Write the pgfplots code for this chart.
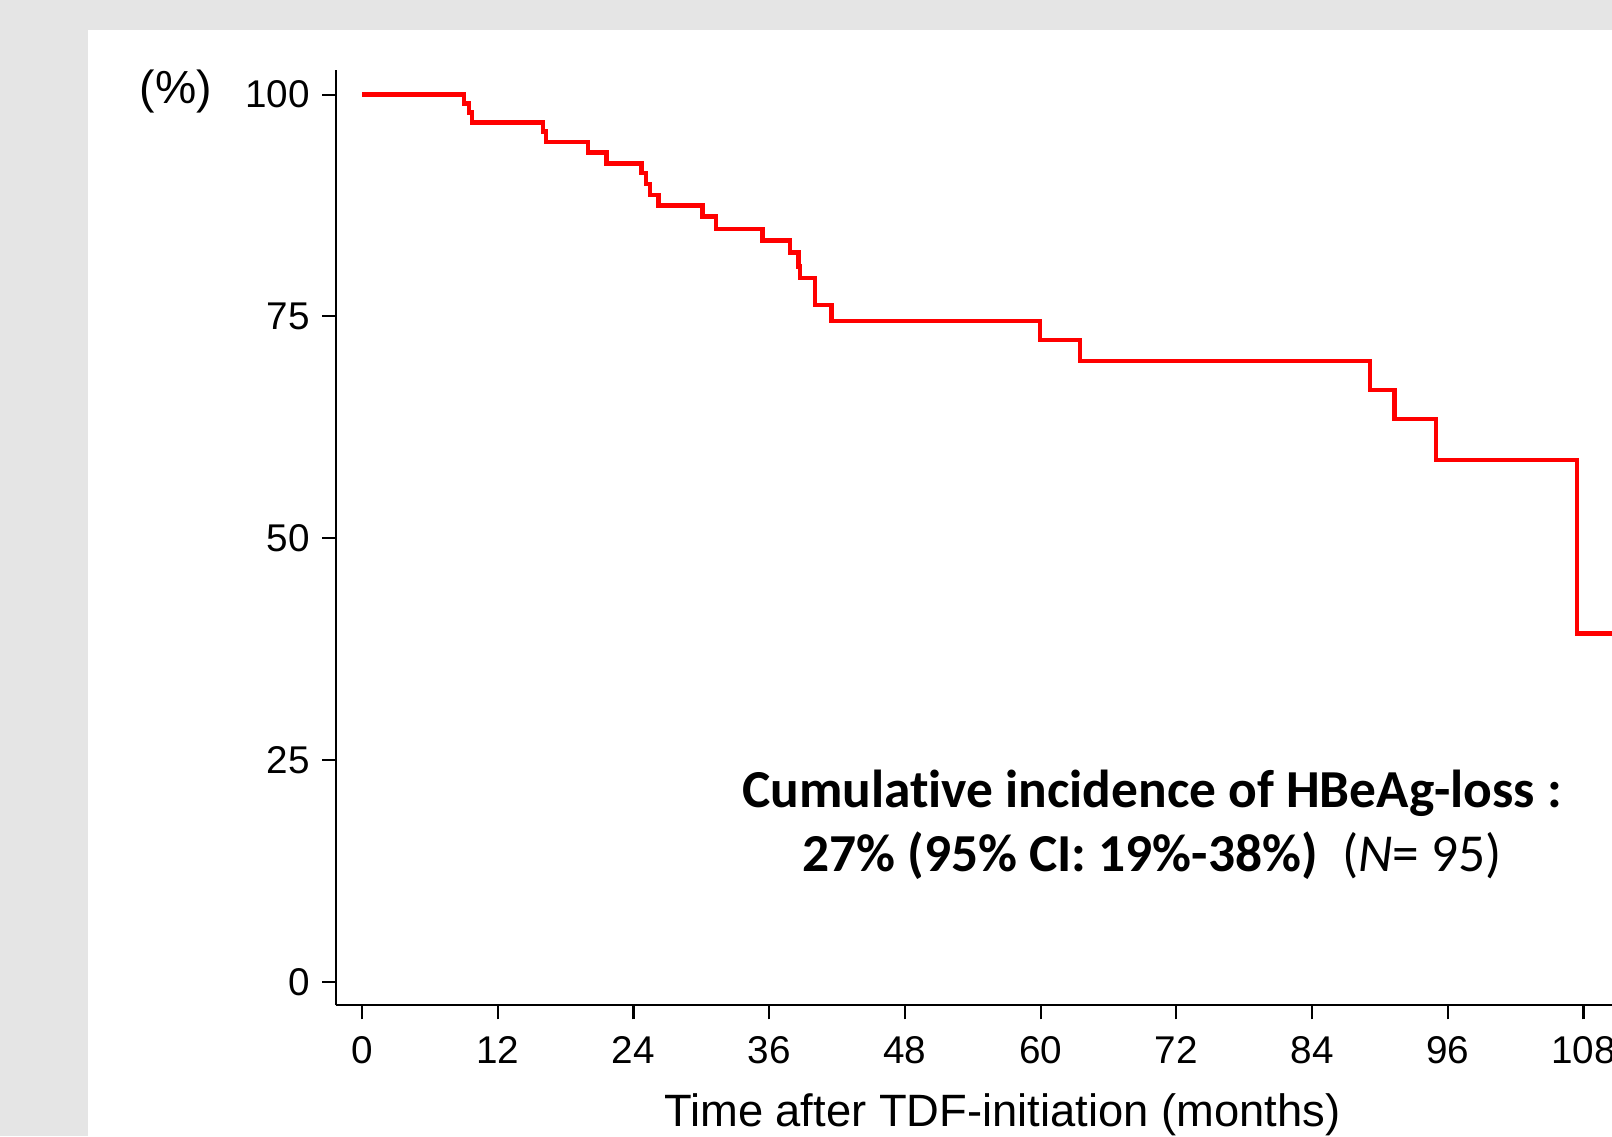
\documentclass[border=0pt]{standalone}
\usepackage{fontspec}
\setmainfont{Liberation Sans}
\newfontfamily\calibri[Ligatures=NoCommon]{Carlito}
\usepackage{pgfplots}
\pgfplotsset{compat=1.18}
\definecolor{bg}{RGB}{229,229,229}
\begin{document}
\begin{tikzpicture}[x=1cm,y=1cm]
\clip (0,0) rectangle (16.12,11.36);
\fill[bg] (0,0) rectangle (16.12,11.36);
\fill[white] (0.88,0) rectangle (16.12,11.06);
\begin{axis}[
  at={(3.36cm,1.306cm)}, anchor=south west,
  x=0.1131cm, y=0.08871cm,
  xmin=-2.3, xmax=125, ymin=-2.67, ymax=102.8,
  enlargelimits=false,
  axis lines=left,
  axis line style={-, line width=0.6pt, black},
  tick style={line width=0.6pt, black},
  tick align=outside,
  major tick length=0.14cm,
  xtick={0,12,...,120},
  ytick={0,25,50,75,100},
  /pgf/number format/assume math mode=true,
  tick label style={font=\fontsize{11}{13}\selectfont},
  xticklabel style={yshift=-0.05cm},
  clip=false,
]
\addplot[const plot, red, line width=1.25pt, line join=miter] coordinates {
(0,100) (9.02,99.0) (9.46,97.96) (9.7,96.87) (15.98,95.82) (16.27,94.62)
(19.96,93.45) (21.6,92.25) (24.7,91.13) (25.1,89.92) (25.46,88.68) (26.2,87.48)
(30.1,86.24) (31.3,84.88) (35.4,83.53) (37.84,82.18) (38.58,80.6) (38.7,79.3)
(40.05,76.28) (41.5,74.51) (59.95,72.34) (63.5,69.97) (89.1,66.7) (91.3,63.4)
(94.96,58.8) (107.45,39.27) (120,39.27)
};
\node[font=\fontsize{12.9}{15}\selectfont] at (axis cs:56.6,-14.95) {Time after TDF-initiation (months)};
\node[font=\fontsize{13.2}{15}\selectfont] at (axis cs:-16.45,100.3) {(\%)};
\node[align=center, font=\calibri\fontsize{15.2}{18.3}\selectfont] at (axis cs:69.85,17.7)
  {\textbf{Cumulative incidence of HBeAg-loss :}\\
   \textbf{27\% (95\% CI: 19\%-38\%)}\ \ (\textit{N}= 95)};
\end{axis}
\end{tikzpicture}
\end{document}
